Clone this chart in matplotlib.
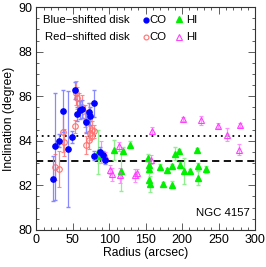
import matplotlib
matplotlib.use("Agg")
import matplotlib.pyplot as plt
from matplotlib.ticker import MultipleLocator

plt.rcParams['font.family'] = ['Liberation Sans', 'DejaVu Sans']

# blue-shifted CO
co_b_r = [23.1, 25.0, 31.3, 36.8, 43.7, 49.2, 52.5, 55.2, 59.8, 62.5, 67.6, 72.1, 73.5, 79.0, 79.4, 87.2, 91.8, 94.1]
co_b_i = [82.3, 83.75, 84.0, 85.34, 83.65, 84.17, 86.26, 85.2, 85.4, 85.43, 84.86, 85.29, 85.1, 85.68, 83.33, 83.5, 83.35, 83.15]
co_b_e = [1.0, 2.4, 0.3, 0.95, 2.6, 0.25, 0.4, 0.3, 0.4, 0.4, 0.5, 0.4, 0.4, 0.6, 0.2, 0.2, 0.2, 0.2]

# red-shifted CO
co_r_r = [25.4, 30.9, 36.8, 38.2, 53.3, 54.3, 55.2, 58.8, 62.9, 66.6, 67.6, 68.0, 72.5, 72.5, 73.5, 75.8, 79.0]
co_r_i = [82.83, 82.74, 84.38, 83.93, 84.65, 86.14, 85.92, 85.7, 85.54, 85.1, 83.83, 84.9, 84.98, 84.05, 84.35, 84.5, 84.42]
co_r_e = [0.6, 0.8, 0.9, 0.6, 0.3, 0.55, 0.5, 0.45, 0.5, 0.5, 0.4, 0.5, 0.7, 0.4, 0.3, 0.4, 0.3]

# blue-shifted HI
hi_b_r = [84.0, 86.0, 106.9, 115.6, 119.2, 128.4, 153.6, 154.5, 155.0, 155.0, 156.0, 169.6, 174.2, 179.7, 186.0,
          186.5, 190.2, 196.2, 197.1, 203.0, 210.9, 220.9, 222.0, 222.3, 233.0]
hi_b_i = [83.5, 83.3, 83.6, 82.65, 83.55, 83.83, 83.25, 82.93, 82.72, 82.26, 82.05, 82.82, 82.05, 82.67, 82.85,
          82.03, 83.42, 83.55, 82.93, 82.65, 82.63, 83.58, 82.85, 82.33, 82.72]
hi_b_e = [1.0, 0.3, 0.45, 0.9, 0.15, 0.15, 0.15, 0.1, 0.1, 0.3, 0.35, 0.15, 0.1, 0.1, 0.1,
          0.15, 0.3, 0.1, 0.1, 0.6, 0.1, 0.1, 0.15, 0.3, 0.15]

# red-shifted HI
hi_r_r = [88.0, 94.0, 101.0, 104.0, 113.0, 114.0, 135.5, 137.5, 156.5, 158.5, 201.6, 225.5, 249.7, 261.5, 277.5, 279.0]
hi_r_i = [83.5, 83.3, 82.7, 82.5, 83.75, 82.45, 82.45, 82.55, 83.15, 84.45, 84.97, 84.92, 84.68, 84.27, 83.6, 84.7]
hi_r_e = [0.5, 0.2, 0.2, 0.3, 0.2, 0.35, 0.3, 0.2, 0.2, 0.15, 0.1, 0.2, 0.1, 0.3, 0.25, 0.1]

inc_dotted = 84.2
inc_dashed = 83.1

fig = plt.figure(figsize=(2.66, 2.67), dpi=100)
ax = fig.add_axes([0.137, 0.139, 0.822, 0.834])

ax.errorbar(hi_b_r, hi_b_i, yerr=hi_b_e, fmt='^', ms=4.2, mfc='#00f000', mec='#00f000',
            ecolor='#90f090', elinewidth=0.9, capsize=1.5, zorder=3)
ax.errorbar(hi_r_r, hi_r_i, yerr=hi_r_e, fmt='^', ms=4.2, mfc='none', mec='#ff40ff', mew=0.8,
            ecolor='#ff90ff', elinewidth=0.9, capsize=1.5, zorder=3)
ax.errorbar(co_r_r, co_r_i, yerr=co_r_e, fmt='o', ms=4, mfc='none', mec='#ff7070', mew=0.8,
            ecolor='#ff8888', elinewidth=0.9, capsize=1.5, zorder=4)
ax.errorbar(co_b_r, co_b_i, yerr=co_b_e, fmt='o', ms=3.8, mfc='#0000ff', mec='#0000ff',
            ecolor='#8888ff', elinewidth=0.9, capsize=1.5, zorder=5)

ax.axhline(inc_dotted, color='black', ls=(0, (1, 2.2)), lw=1.3, zorder=2)
ax.axhline(inc_dashed, color='black', ls=(0, (4, 2.5)), lw=1.3, zorder=2)

ax.set_xlim(0, 300)
ax.set_ylim(80, 90)
ax.xaxis.set_major_locator(MultipleLocator(50))
ax.xaxis.set_minor_locator(MultipleLocator(10))
ax.yaxis.set_major_locator(MultipleLocator(2))
ax.yaxis.set_minor_locator(MultipleLocator(0.5))
ax.tick_params(which='both', direction='in', top=True, right=True, labelsize=9, width=0.6, colors='#444444',
               labelcolor='black')
ax.tick_params(which='major', length=5, pad=3)
ax.tick_params(which='minor', length=2.5)
for s in ax.spines.values():
    s.set_linewidth(0.8)
    s.set_color('#333333')

ax.set_xlabel('Radius (arcsec)', fontsize=8.7, labelpad=1)
ax.set_ylabel('Inclination (degree)', fontsize=8.7, labelpad=2)

# legend
ax.text(0.03, 0.943, 'Blue\u2212shifted disk', transform=ax.transAxes, fontsize=8.2, va='center', ha='left')
ax.text(0.04, 0.866, 'Red\u2212shifted disk', transform=ax.transAxes, fontsize=8.2, va='center', ha='left')
ax.plot([0.502], [0.943], 'o', ms=3.5, color='#0000ff', transform=ax.transAxes)
ax.plot([0.502], [0.866], 'o', ms=3.5, mfc='none', mec='#ff7070', mew=0.8, transform=ax.transAxes)
ax.text(0.515, 0.943, 'CO', transform=ax.transAxes, fontsize=8.2, va='center', ha='left')
ax.text(0.515, 0.866, 'CO', transform=ax.transAxes, fontsize=8.2, va='center', ha='left')
ax.plot([0.653], [0.945], '^', ms=4.2, color='#00f000', transform=ax.transAxes)
ax.plot([0.653], [0.868], '^', ms=4.2, mfc='none', mec='#ff40ff', mew=0.8, transform=ax.transAxes)
ax.text(0.685, 0.943, 'HI', transform=ax.transAxes, fontsize=8.2, va='center', ha='left')
ax.text(0.685, 0.866, 'HI', transform=ax.transAxes, fontsize=8.2, va='center', ha='left')

ax.text(0.975, 0.075, 'NGC 4157', transform=ax.transAxes, fontsize=8.2, va='center', ha='right')

fig.savefig('out.png', dpi=100)
